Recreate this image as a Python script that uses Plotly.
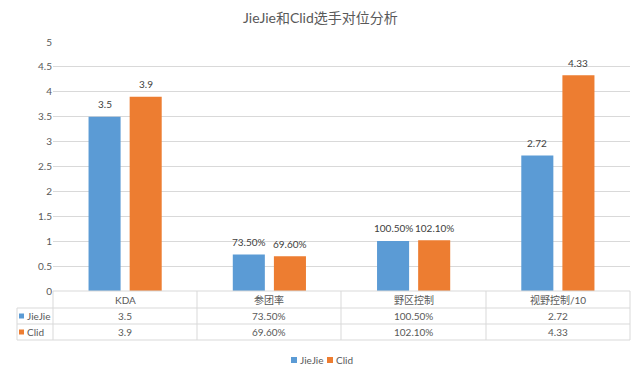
import plotly.graph_objects as go

categories = ["KDA", "参团率", "野区控制", "视野控制/10"]
jiejie_values = [3.5, 0.735, 1.005, 2.72]
clid_values = [3.9, 0.696, 1.021, 4.33]
jiejie_labels = ["3.5", "73.50%", "100.50%", "2.72"]
clid_labels = ["3.9", "69.60%", "102.10%", "4.33"]
series_names = ["JieJie", "Clid"]
y_ticks = [0, 0.5, 1, 1.5, 2, 2.5, 3, 3.5, 4, 4.5, 5]
y_tick_labels = ["0", "0.5", "1", "1.5", "2", "2.5", "3", "3.5", "4", "4.5", "5"]

BLUE = "#5b9bd5"
ORANGE = "#ed7d31"
GRID = "#d9d9d9"
TXT = "#595959"
FONT = "Lato, Noto Sans CJK SC, sans-serif"

# page has an 8px body margin; reference pixel positions are shifted by it
OFF = 8
W, H = 640 - OFF, 376 - OFF
L, T = 53 - OFF, 42 - OFF
R = W - (630 - OFF)
B = H - (291 - OFF)
PW = W - L - R
PH = H - T - B


def px_y(py):
    return (H - B - (py - OFF)) / PH


def px_x(px):
    return ((px - OFF) - L) / PW


fig = go.Figure()
fig.add_trace(go.Bar(x=categories, y=jiejie_values, name=series_names[0],
                     marker=dict(color=BLUE, line=dict(width=0))))
fig.add_trace(go.Bar(x=categories, y=clid_values, name=series_names[1],
                     marker=dict(color=ORANGE, line=dict(width=0))))

shapes = []
annotations = []

# data labels above bars
for i, c in enumerate(categories):
    for vals, labs, dx in ((jiejie_values, jiejie_labels, -20.5), (clid_values, clid_labels, 20.5)):
        annotations.append(dict(x=c, xref="x", y=vals[i], yref="y", xshift=dx, yshift=12.5,
                                text=labs[i], showarrow=False, yanchor="middle",
                                font=dict(size=10, color="#404040", family=FONT)))

y_top, y_r1, y_r2, y_bot = 291, 308, 324, 340
x_left = 17
col_edges = [53, 197, 341, 486, 630]

line = dict(color=GRID, width=1)
shapes.append(dict(type="line", xref="paper", yref="paper", x0=px_x(53), x1=px_x(630),
                   y0=px_y(y_top), y1=px_y(y_top), line=line))
for yy in (y_r1, y_r2, y_bot):
    shapes.append(dict(type="line", xref="paper", yref="paper", x0=px_x(x_left), x1=px_x(630),
                       y0=px_y(yy), y1=px_y(yy), line=line))
for xe in col_edges:
    shapes.append(dict(type="line", xref="paper", yref="paper", x0=px_x(xe), x1=px_x(xe),
                       y0=px_y(y_top), y1=px_y(y_bot), line=line))
shapes.append(dict(type="line", xref="paper", yref="paper", x0=px_x(x_left), x1=px_x(x_left),
                   y0=px_y(y_r1), y1=px_y(y_bot), line=line))

for i, c in enumerate(categories):
    for text, (ya, yb) in ((c, (y_top, y_r1)), (jiejie_labels[i], (y_r1, y_r2)), (clid_labels[i], (y_r2, y_bot))):
        annotations.append(dict(x=c, xref="x", y=px_y((ya + yb) / 2), yref="paper",
                                xanchor="center", yanchor="middle",
                                text=text, showarrow=False, font=dict(size=10, color=TXT, family=FONT)))

for (ya, yb), name, col in (((y_r1, y_r2), series_names[0], BLUE), ((y_r2, y_bot), series_names[1], ORANGE)):
    ym = (ya + yb) / 2
    shapes.append(dict(type="rect", xref="paper", yref="paper", x0=px_x(19), x1=px_x(24),
                       y0=px_y(ym + 2.5), y1=px_y(ym - 2.5), line=dict(width=0), fillcolor=col))
    annotations.append(dict(x=px_x(25), xref="paper", y=px_y(ym), yref="paper",
                            xanchor="left", yanchor="middle",
                            text=name, showarrow=False, font=dict(size=10, color=TXT, family=FONT)))

# legend (drawn manually to match compact Excel legend)
ly = 360
for x0, name, col in ((291, series_names[0], BLUE), (327, series_names[1], ORANGE)):
    shapes.append(dict(type="rect", xref="paper", yref="paper", x0=px_x(x0), x1=px_x(x0 + 6),
                       y0=px_y(ly + 3), y1=px_y(ly - 3), line=dict(width=0), fillcolor=col))
    annotations.append(dict(x=px_x(x0 + 7), xref="paper", y=px_y(ly), yref="paper",
                            xanchor="left", yanchor="middle",
                            text=name, showarrow=False, font=dict(size=10, color=TXT, family=FONT)))

# chart title
annotations.append(dict(x=px_x(320), xref="paper", y=px_y(17), yref="paper",
                        xanchor="center", yanchor="middle", showarrow=False,
                        text="JieJie和Clid选手对位分析",
                        font=dict(size=14, color=TXT, family=FONT)))

fig.update_layout(
    width=W, height=H, autosize=False,
    margin=dict(l=L, r=R, t=T, b=B, autoexpand=False),
    paper_bgcolor="white", plot_bgcolor="white",
    barmode="group", bargap=0.43, bargroupgap=0.22,
    font=dict(family=FONT, color=TXT, size=10),
    xaxis=dict(showticklabels=False, showgrid=False, zeroline=False, showline=False,
               range=[-0.5, 3.5], automargin=False),
    yaxis=dict(range=[0, 5], tickvals=y_ticks, ticktext=y_tick_labels, showgrid=True,
               gridcolor=GRID, gridwidth=1, zeroline=False, showline=False, automargin=False,
               ticks="", tickfont=dict(size=10, color=TXT)),
    showlegend=False,
    shapes=shapes, annotations=annotations,
)

fig.write_html("out.html")
